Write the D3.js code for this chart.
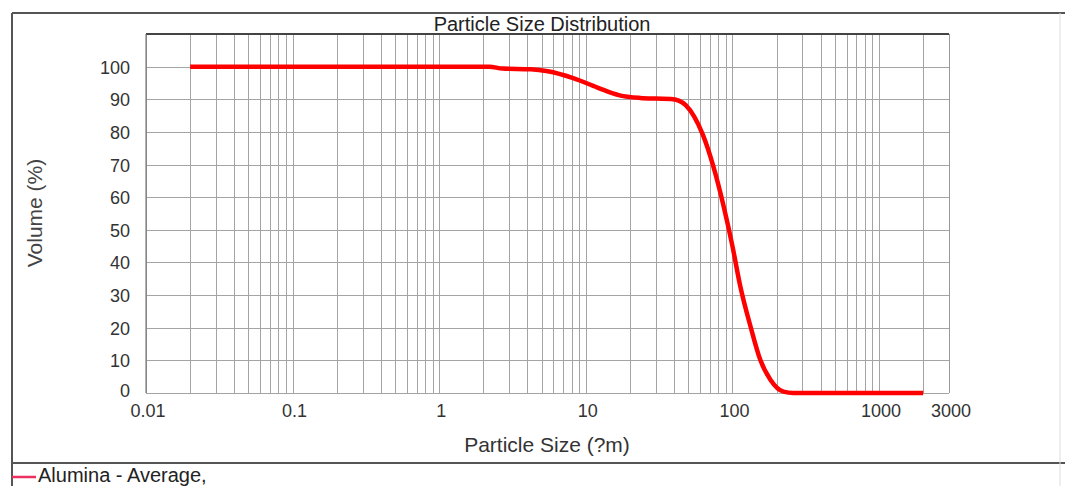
<!DOCTYPE html>
<html>
<head>
<meta charset="utf-8">
<script src="https://cdn.jsdelivr.net/npm/d3@7"></script>
<style>
  body { margin: 0; background: #fff; }
  svg { display: block; font-family: "Liberation Sans", Arial, sans-serif; }
</style>
</head>
<body>
<div id="chart"></div>
<script>
// particle size (um) and cumulative volume (%)
const sizes = [0.02, 0.1, 1, 2.2, 2.7, 4.2, 5.5, 8.2, 12, 17, 23.5, 30, 38, 43, 48, 55, 63, 74, 87, 100, 113, 133, 155, 182, 223, 260, 500, 1000, 2000];
const volumes = [100, 100, 100, 100, 99.4, 99.2, 98.6, 96.5, 93.6, 91.2, 90.4, 90.2, 90.1, 89.6, 88.2, 84.6, 79, 69.5, 57.3, 45, 32.8, 20.3, 10.1, 4, 0.4, 0, 0, 0, 0];
const xTickValues = [0.01, 0.1, 1, 10, 100, 1000, 3000];
const xTickLabels = ['0.01', '0.1', '1', '10', '100', '1000', '3000'];
const yTickValues = [0, 10, 20, 30, 40, 50, 60, 70, 80, 90, 100];
const seriesName = 'Alumina - Average,';

const width = 1065, height = 486;
const plot = { left: 146, right: 949, top: 34, bottom: 393 };

const svg = d3.select('#chart')
    .append('svg')
    .attr('width', width)
    .attr('height', height);

const x = d3.scaleLog()
    .domain([0.01, 3000])
    .range([plot.left, plot.right]);

const y = d3.scaleLinear()
    .domain([0, 110])
    .range([plot.bottom, plot.top]);

// outer frame
svg.append('line')
    .attr('x1', 12).attr('x2', width).attr('y1', 13).attr('y2', 13)
    .attr('stroke', '#555').attr('stroke-width', 2);
svg.append('line')
    .attr('x1', 12).attr('x2', 12).attr('y1', 13).attr('y2', height)
    .attr('stroke', '#555').attr('stroke-width', 2);
svg.append('line')
    .attr('x1', 12).attr('x2', width).attr('y1', 463).attr('y2', 463)
    .attr('stroke', '#555').attr('stroke-width', 2);
svg.append('line')
    .attr('x1', 1060).attr('x2', 1060).attr('y1', 13).attr('y2', height)
    .attr('stroke', '#ddd').attr('stroke-width', 1);

// grid
svg.append('g')
    .selectAll('line')
    .data(x.ticks())
    .join('line')
    .attr('x1', d => Math.round(x(d)) + 0.5)
    .attr('x2', d => Math.round(x(d)) + 0.5)
    .attr('y1', plot.top)
    .attr('y2', plot.bottom)
    .attr('stroke', '#a4a4a4')
    .attr('stroke-width', 1);

svg.append('g')
    .selectAll('line')
    .data(yTickValues)
    .join('line')
    .attr('x1', plot.left)
    .attr('x2', plot.right)
    .attr('y1', d => Math.round(y(d)) + 0.5)
    .attr('y2', d => Math.round(y(d)) + 0.5)
    .attr('stroke', '#a4a4a4')
    .attr('stroke-width', 1);

// plot borders
svg.append('line')
    .attr('x1', plot.left).attr('x2', plot.right).attr('y1', plot.top).attr('y2', plot.top)
    .attr('stroke', '#444').attr('stroke-width', 2);
svg.append('line')
    .attr('x1', plot.left).attr('x2', plot.left).attr('y1', plot.top).attr('y2', plot.bottom)
    .attr('stroke', '#666').attr('stroke-width', 1);
svg.append('line')
    .attr('x1', plot.right + 0.5).attr('x2', plot.right + 0.5).attr('y1', plot.top).attr('y2', plot.bottom)
    .attr('stroke', '#999').attr('stroke-width', 1);

// tick labels
svg.append('g')
    .selectAll('text')
    .data(yTickValues)
    .join('text')
    .attr('x', 130)
    .attr('y', d => y(d) + (d === 0 ? 4 : 7))
    .attr('text-anchor', 'end')
    .attr('font-size', 18)
    .attr('fill', '#333')
    .text(d => d);

svg.append('g')
    .selectAll('text')
    .data(xTickValues)
    .join('text')
    .attr('x', d => x(d) + 2)
    .attr('y', 417)
    .attr('text-anchor', 'middle')
    .attr('font-size', 18)
    .attr('fill', '#333')
    .text((d, i) => xTickLabels[i]);

// titles
svg.append('text')
    .attr('x', 542)
    .attr('y', 31)
    .attr('text-anchor', 'middle')
    .attr('font-size', 20)
    .attr('fill', '#222')
    .text('Particle Size Distribution');

svg.append('text')
    .attr('x', 547)
    .attr('y', 452)
    .attr('text-anchor', 'middle')
    .attr('font-size', 21)
    .attr('fill', '#333')
    .text('Particle Size (?m)');

svg.append('text')
    .attr('transform', 'translate(42,213) rotate(-90)')
    .attr('text-anchor', 'middle')
    .attr('font-size', 21)
    .attr('fill', '#444')
    .text('Volume (%)');

// curve
const line = d3.line()
    .x((d, i) => x(sizes[i]))
    .y(d => y(d))
    .curve(d3.curveMonotoneX);

svg.append('path')
    .datum(volumes)
    .attr('d', line)
    .attr('fill', 'none')
    .attr('stroke', '#f00')
    .attr('stroke-width', 4.5)
    .attr('stroke-linejoin', 'round');

// legend
svg.append('line')
    .attr('x1', 12).attr('x2', 36).attr('y1', 477).attr('y2', 477)
    .attr('stroke', '#ec3060').attr('stroke-width', 2.5);
svg.append('text')
    .attr('x', 38)
    .attr('y', 482)
    .attr('font-size', 20)
    .attr('fill', '#222')
    .text(seriesName);
</script>
</body>
</html>
